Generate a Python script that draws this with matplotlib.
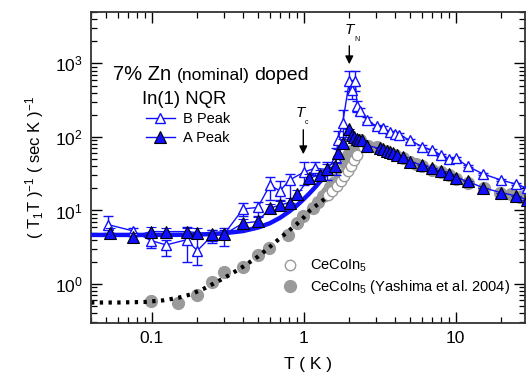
import matplotlib
matplotlib.use("Agg")
import matplotlib.pyplot as plt
import matplotlib.ticker as ticker
import numpy as np

plt.rcParams['font.family'] = ['Liberation Sans', 'DejaVu Sans']
plt.rcParams['mathtext.fontset'] = 'custom'
plt.rcParams['mathtext.rm'] = 'Liberation Sans'
plt.rcParams['mathtext.it'] = 'Liberation Sans:italic'
plt.rcParams['mathtext.bf'] = 'Liberation Sans:bold'

# ---------------- data ----------------
# B Peak (open triangles) with asymmetric error bars (lower / upper values)
b_T = [0.052, 0.075, 0.099, 0.125, 0.17, 0.2, 0.25, 0.3, 0.4, 0.5, 0.6, 0.7, 0.81,
       1.0, 1.19, 1.42, 1.64, 1.68, 1.81, 2.0, 2.07, 2.18, 2.26, 2.35, 2.6,
       3.03, 3.35, 3.7, 4.0, 4.27, 5.0, 6.0, 7.0, 8.0, 9.0, 10.1, 12.0, 15.1, 19.8, 25.0, 29.6]
b_y = [6.4, 5.3, 3.9, 3.4, 4.0, 2.84, 4.55, 4.75, 10.5, 11.0, 22.0, 18.5, 26.0,
       33.0, 37.7, 36.0, 51.6, 91.0, 157.0, 570.0, 440.0, 570.0, 260.0, 224.0, 171.0,
       139.0, 132.0, 115.0, 110.0, 107.0, 90.0, 74.0, 66.0, 57.0, 50.0, 51.0, 40.0, 31.5, 26.0, 22.8, 20.0]
b_lo = [4.9, 4.5, 3.1, 2.4, 2.0, 1.8, 3.6, 3.3, 8.5, 8.5, 13.9, 14.0, 12.6,
        22.0, 30.0, 26.0, 30.0, 55.0, 100.0, 420.0, 330.0, 420.0, 220.0, 200.0, 160.0,
        132.0, 125.0, 109.0, 104.0, 102.0, 86.0, 71.0, 63.0, 54.5, 48.0, 49.0, 38.5, 30.3, 25.0, 22.0, 19.2]
b_hi = [8.5, 5.8, 4.6, 4.0, 5.9, 4.2, 5.4, 5.7, 12.8, 13.2, 28.9, 25.0, 31.5,
        45.0, 45.0, 46.0, 70.0, 120.0, 234.0, 780.0, 600.0, 780.0, 310.0, 250.0, 185.0,
        146.0, 139.0, 121.0, 116.0, 112.0, 94.0, 77.0, 69.0, 59.5, 52.0, 53.0, 41.5, 32.7, 27.0, 23.6, 20.8]

# A Peak (filled triangles)
a_T = [0.053, 0.075, 0.099, 0.125, 0.17, 0.2, 0.25, 0.3, 0.4, 0.5, 0.6, 0.7, 0.81, 0.91,
       1.09, 1.28, 1.42, 1.61, 1.69, 1.83, 2.0, 2.07, 2.15, 2.24, 2.33, 2.41, 2.6,
       3.18, 3.35, 3.53, 3.7, 3.9, 4.1, 4.5, 5.0, 6.0, 7.0, 8.0, 9.0, 10.1, 12.0, 15.1, 19.8, 25.0, 29.6]
a_y = [5.0, 4.4, 5.16, 5.16, 5.16, 5.0, 4.75, 4.75, 6.7, 7.1, 10.7, 11.9, 12.8, 16.5,
       27.5, 30.6, 37.0, 40.0, 60.0, 84.0, 127.0, 107.0, 101.0, 93.0, 91.0, 89.5, 76.0,
       70.0, 68.0, 65.0, 62.0, 60.0, 57.0, 53.0, 46.0, 41.6, 37.7, 34.0, 31.5, 28.0, 24.8, 20.5, 17.5, 15.8, 13.9]
a_err = [0.8, 0.6, 0.8, 0.7, 0.7, 0.7, 0.6, 0.7, 1.0, 1.1, 1.5, 1.7, 1.8, 2.3,
         4.0, 4.5, 5.5, 6.0, 8.0, 10.0, 0, 0, 0, 0, 0, 0, 0,
         0, 0, 0, 0, 0, 0, 0, 0, 0, 0, 0, 0, 0, 0, 0, 0, 0, 0]

# thick blue fit line
fitA_T = [0.04, 0.1, 0.2, 0.3, 0.4, 0.5, 0.6, 0.7, 0.8, 0.9, 1.0, 1.1, 1.2, 1.3, 1.4, 1.45]
fitA_y = [4.65, 4.65, 4.68, 4.9, 5.25, 5.85, 6.7, 7.95, 9.6, 11.6, 14.2, 17.3, 21.0, 25.5, 31.0, 34.0]

# CeCoIn5 (open circles)
ce_T = [1.45, 1.55, 1.65, 1.75, 1.85, 1.95, 2.05, 2.15, 2.25]
ce_y = [16.0, 18.5, 21.5, 25.0, 29.0, 34.0, 40.0, 48.0, 56.0]

# CeCoIn5 (Yashima et al. 2004) filled gray circles
ya_T = [0.099, 0.149, 0.198, 0.249, 0.3, 0.4, 0.5, 0.59, 0.79, 0.9, 0.99, 1.16, 1.25, 1.34,
        1.42, 1.49, 1.57, 1.74, 1.88, 1.97, 2.13, 2.35, 2.67, 3.03, 3.5, 4.0, 4.5, 5.0, 5.5,
        6.0, 7.0, 8.0, 9.0, 10.0, 12.0, 15.3, 19.6, 23.0, 26.5]
ya_y = [0.585, 0.56, 0.72, 1.06, 1.47, 1.72, 2.48, 3.06, 4.7, 6.7, 8.4, 10.7, 13.2, 15.8,
        18.1, 20.8, 23.5, 30.5, 44.0, 57.0, 66.5, 90.0, 76.0, 72.0, 64.0, 56.0, 51.0, 46.0, 43.0,
        40.0, 36.0, 33.0, 30.0, 27.0, 23.5, 20.0, 17.5, 16.5, 15.2]

# black dotted fit line
fitC_T = [0.04, 0.06, 0.09, 0.12, 0.15, 0.18, 0.22, 0.27, 0.33, 0.4, 0.5, 0.6, 0.7, 0.8,
          0.9, 1.0, 1.1, 1.2, 1.3, 1.4]
fitC_y = [0.56, 0.56, 0.57, 0.6, 0.65, 0.72, 0.86, 1.07, 1.35, 1.72, 2.35, 3.2, 4.2, 5.3,
          6.5, 8.0, 10.0, 11.5, 13.0, 14.8]

x_ticks = [0.1, 1, 10]

# ---------------- figure ----------------
W, H = 530, 386
fig = plt.figure(figsize=(W / 100, H / 100), dpi=100)
ax = fig.add_axes([91 / W, 1 - 323 / H, (525 - 91) / W, (323 - 12) / H])


def px(x, y):
    return (x / W, 1 - y / H)


blue = '#1010ff'
gray = '#9a9a9a'

# gray data
ax.plot(ya_T, ya_y, 'o', ms=8.5, mfc=gray, mec=gray, zorder=2)
ax.plot(ce_T, ce_y, 'o', ms=7.5, mfc='white', mec=gray, mew=1.0, zorder=2.1)
ax.plot(fitC_T, fitC_y, color='black', lw=3.0, ls=(0, (0.8, 1.3)), zorder=2.5)

# thick blue fit
ax.plot(fitA_T, fitA_y, color=blue, lw=3.2, zorder=3, solid_capstyle='butt')

# B peak
b_y_arr = np.array(b_y)
yerrB = [b_y_arr - np.array(b_lo), np.array(b_hi) - b_y_arr]
ax.errorbar(b_T, b_y, yerr=yerrB, fmt='-^', color=blue, lw=1.0, ms=7.5, mfc='white',
            mec=blue, mew=1.0, capsize=3.5, elinewidth=1.0, capthick=1.0, zorder=4)
# A peak
ax.errorbar(a_T, a_y, yerr=a_err, fmt='-^', color=blue, lw=1.0, ms=9, mfc=blue,
            mec='black', mew=0.8, capsize=3.5, elinewidth=1.0, capthick=1.0, zorder=5)

ax.set_xscale('log')
ax.set_yscale('log')
ax.set_xlim(0.04, 28.6)
ax.set_ylim(0.295, 5000)

ax.xaxis.set_major_locator(ticker.FixedLocator(x_ticks))
ax.xaxis.set_major_formatter(ticker.FuncFormatter(lambda v, p: f"{v:g}"))
ax.xaxis.set_minor_locator(ticker.LogLocator(base=10, subs=np.arange(2, 10)))
ax.xaxis.set_minor_formatter(ticker.NullFormatter())
ax.yaxis.set_major_locator(ticker.LogLocator(base=10, numticks=10))
ax.yaxis.set_minor_locator(ticker.LogLocator(base=10, subs=np.arange(2, 10), numticks=20))
ax.yaxis.set_minor_formatter(ticker.NullFormatter())

ax.tick_params(which='both', direction='in', top=True, right=True, colors='black')
ax.tick_params(which='major', length=8, width=1.0, labelsize=12.5, pad=6)
ax.tick_params(which='minor', length=4.5, width=0.9)
for s in ax.spines.values():
    s.set_linewidth(1.3)
    s.set_color('#333333')

ax.set_xlabel('T ( K )', fontsize=12.5, labelpad=8)
ax.set_ylabel('( T$_1$T )$^{-1}$ ( sec K )$^{-1}$', fontsize=12, labelpad=6)

# ---- annotations ----
fig.text(*px(113, 80), '7% Zn', fontsize=14.5, va='baseline', ha='left')
fig.text(*px(176.5, 80), '(nominal)', fontsize=12.5, va='baseline', ha='left')
fig.text(*px(254, 80), 'doped', fontsize=14, va='baseline', ha='left')
fig.text(*px(141.5, 103.5), 'In(1) NQR', fontsize=13.3, va='baseline', ha='left')

# legend for triangles
for yy, lab, fc, ec, ms in [(118.3, 'B Peak', 'white', blue, 7.5), (136.7, 'A Peak', blue, 'black', 9)]:
    x0, y0 = px(146, yy)
    x1, _ = px(175, yy)
    fig.lines.append(plt.Line2D([x0, x1], [y0, y0], color=blue, lw=1.0, transform=fig.transFigure))
    xm, ym = px(160, yy)
    fig.lines.append(plt.Line2D([xm], [ym], marker='^', ms=ms, mfc=fc, mec=ec,
                                mew=1.0 if fc == 'white' else 0.8, transform=fig.transFigure))
    fig.text(*px(183, yy + 5), lab, fontsize=10.5, va='baseline', ha='left')

# circle legend
xm, ym = px(290, 265)
fig.lines.append(plt.Line2D([xm], [ym], marker='o', ms=7.5, mfc='white', mec=gray, mew=1.0,
                            transform=fig.transFigure))
fig.text(*px(310.5, 270), 'CeCoIn$_5$', fontsize=10.5, va='baseline', ha='left')
xm, ym = px(290, 286)
fig.lines.append(plt.Line2D([xm], [ym], marker='o', ms=8.5, mfc=gray, mec=gray,
                            transform=fig.transFigure))
fig.text(*px(310.5, 291), 'CeCoIn$_5$ (Yashima et al. 2004)', fontsize=10.5, va='baseline', ha='left')

# T_N and T_c labels with arrows
fig.text(*px(344.5, 33.5), 'T', fontsize=11, style='italic', va='baseline', ha='left')
fig.text(*px(354, 41), 'N', fontsize=5, va='baseline', ha='left')
ax.annotate('', xy=px(349.3, 67), xytext=px(349.3, 43), xycoords='figure fraction',
            textcoords='figure fraction',
            arrowprops=dict(arrowstyle='-|>', color='black', lw=1.0, mutation_scale=12))
fig.text(*px(296, 117), 'T', fontsize=11, style='italic', va='baseline', ha='left')
fig.text(*px(305, 124.5), 'c', fontsize=5, va='baseline', ha='left')
ax.annotate('', xy=px(303.3, 157), xytext=px(303.3, 127), xycoords='figure fraction',
            textcoords='figure fraction',
            arrowprops=dict(arrowstyle='-|>', color='black', lw=1.0, mutation_scale=12))

fig.savefig('out.png', dpi=100)
